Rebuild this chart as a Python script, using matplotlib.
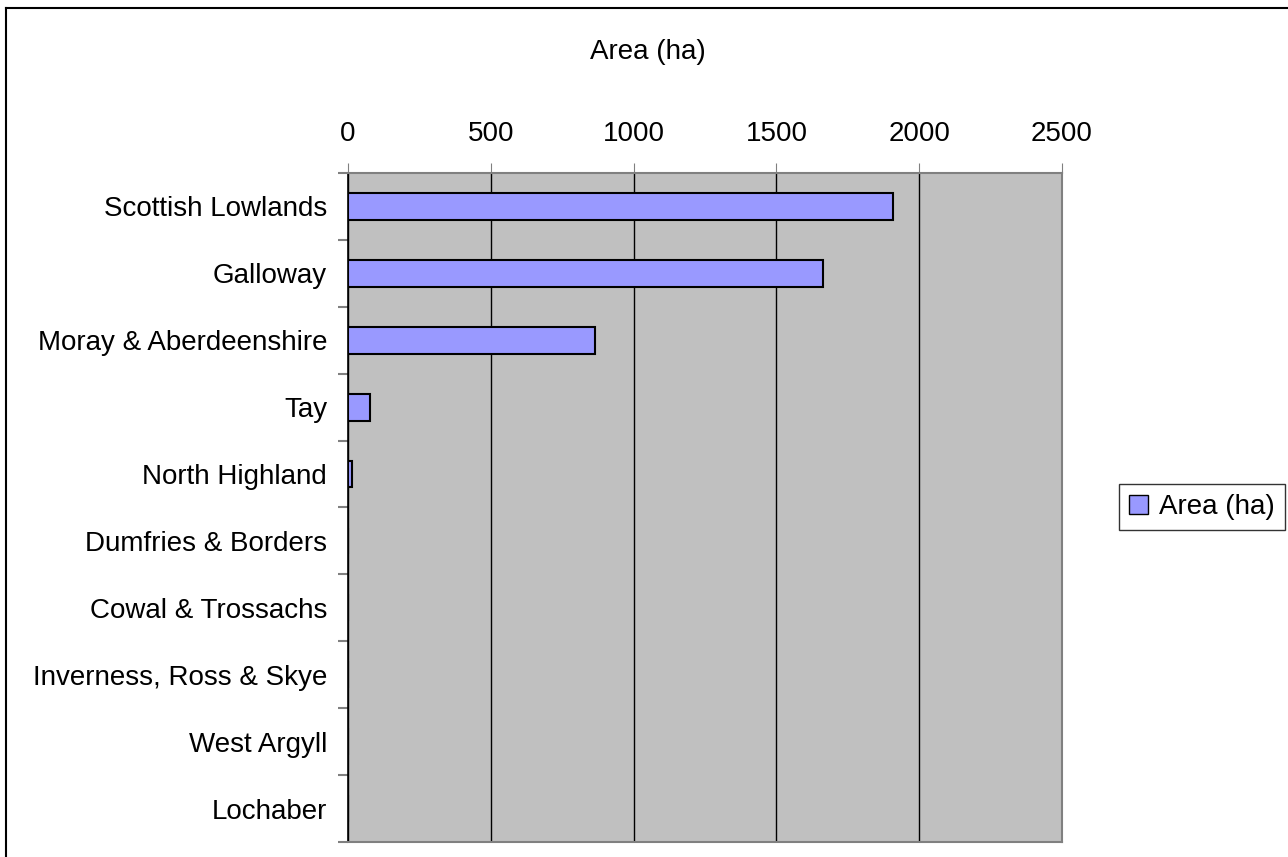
import matplotlib.pyplot as plt
import matplotlib.patches as mpatches
from matplotlib.lines import Line2D
import numpy as np

plt.rcParams['font.family'] = ['Liberation Sans', 'DejaVu Sans']

# Dati
regions = ['Scottish Lowlands', 'Galloway', 'Moray & Aberdeenshire', 'Tay',
           'North Highland', 'Dumfries & Borders', 'Cowal & Trossachs',
           'Inverness, Ross & Skye', 'West Argyll', 'Lochaber']
area = [1907, 1662, 865, 78, 14, 0, 0, 0, 0, 0]
x_ticks = [0, 500, 1000, 1500, 2000, 2500]

bar_color = '#9999ff'
fs = 20

fig = plt.figure(figsize=(12.88, 8.57), dpi=100)
ax = fig.add_axes([348/1288, 1 - 842/857, (1062 - 348)/1288, (842 - 173)/857])
ax.set_facecolor('#c0c0c0')

y = np.arange(len(regions))
ax.barh(y, area, height=0.4, color=bar_color, edgecolor='black', linewidth=1.5, zorder=3)

ax.set_xlim(0, 2500)
ax.set_ylim(len(regions) - 0.5, -0.5)
ax.set_xticks(x_ticks)
ax.xaxis.tick_top()
ax.tick_params(axis='x', direction='out', length=7, color='#808080', labelsize=fs, pad=12)
ax.grid(axis='x', color='black', linewidth=1, zorder=1)

# tacche y ai confini delle categorie
ax.set_yticks(np.arange(len(regions) + 1) - 0.5, minor=True)
ax.set_yticks(y)
ax.set_yticklabels(regions, fontsize=fs)
ax.tick_params(axis='y', which='major', length=0, pad=15)
ax.tick_params(axis='y', which='minor', direction='out', length=7, color='#808080', width=1.5)

for side in ['top', 'right', 'bottom']:
    ax.spines[side].set_color('#808080')
    ax.spines[side].set_linewidth(1.5)
ax.spines['left'].set_color('black')
ax.spines['left'].set_linewidth(1.2)

fig.text(648/1288, 1 - 52/857, 'Area (ha)', ha='center', va='center', fontsize=fs)

patch = mpatches.Patch(facecolor=bar_color, edgecolor='black', label='Area (ha)')
leg = fig.legend(handles=[patch], loc='center', bbox_to_anchor=(1202/1288, 1 - 507/857),
                 fontsize=fs, frameon=True, fancybox=False, handlelength=0.7,
                 handleheight=0.7, handletextpad=0.4, borderpad=0.35, borderaxespad=0)
leg.get_frame().set_edgecolor('black')
leg.get_frame().set_linewidth(1)

# bordo della figura
fig.add_artist(Line2D([6/1288, 6/1288], [0, 1 - 8/857], color='black', linewidth=1.5))
fig.add_artist(Line2D([6/1288, 1], [1 - 8/857, 1 - 8/857], color='black', linewidth=1.5))

fig.savefig('out.png', dpi=100)
